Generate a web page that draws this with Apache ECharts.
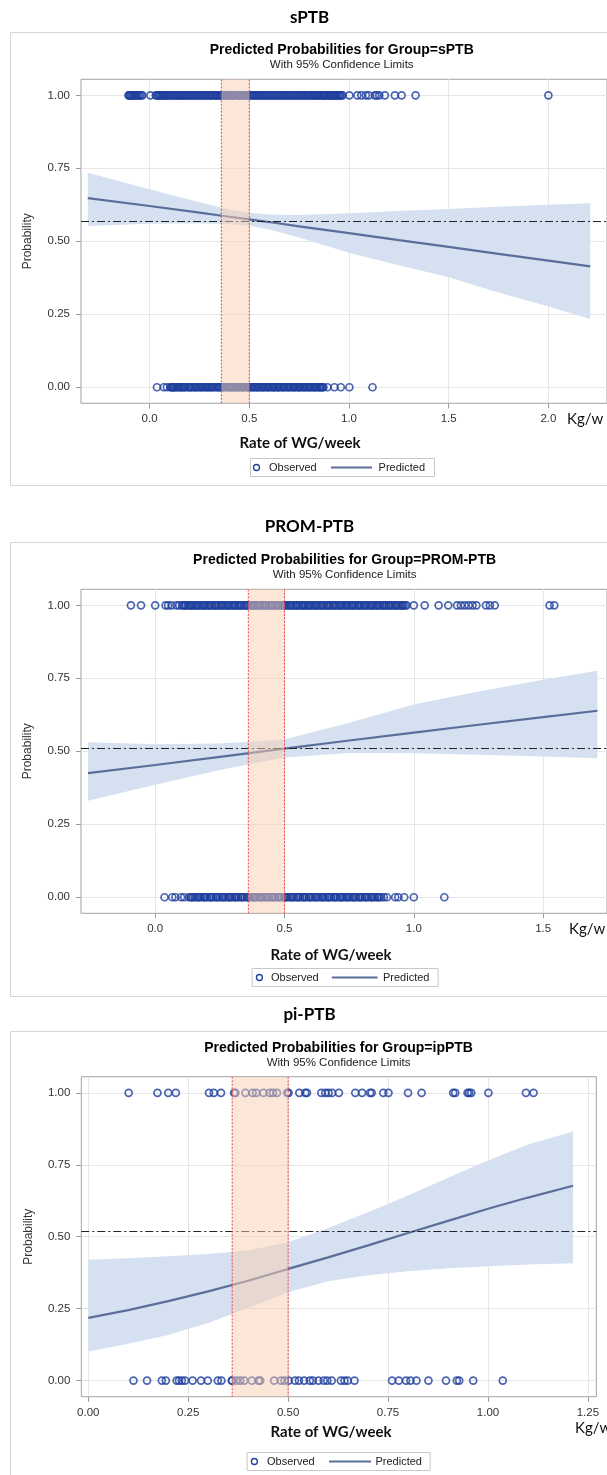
<!DOCTYPE html>
<html><head><meta charset="utf-8">
<script src="https://cdn.jsdelivr.net/npm/echarts@6.0.0/dist/echarts.min.js"></script>
<style>html,body{margin:0;padding:0;background:#fff}#c{width:607px;height:1475px}</style>
</head><body><div id="c"></div>
<script>
// ---------------- DATA ----------------
const yTicks = [0, 0.25, 0.5, 0.75, 1];
const sptbTicks = [0, 0.5, 1, 1.5, 2];
const promTicks = [0, 0.5, 1, 1.5];
const ipTicks = [0, 0.25, 0.5, 0.75, 1, 1.25];
const bandRange = [0.36, 0.5];

// sPTB
const sptbObs1 = [-0.106,-0.102,-0.098,-0.093,-0.088,-0.083,-0.077,-0.071,-0.064,-0.057,-0.05,-0.043,-0.036,0.004,
 0.031,0.036,0.044,0.052,0.057,0.066,0.071,0.083,0.09,0.097,0.104,0.118,0.124,0.131,0.146,0.152,0.163,0.171,0.184,0.19,0.203,0.211,0.226,0.233,0.241,0.255,0.262,0.27,0.284,0.291,0.3,0.31,0.318,0.327,0.336,0.344,0.351,0.362,0.37,0.379,0.386,0.397,0.405,0.414,0.423,0.43,0.441,0.452,0.46,0.467,0.478,0.489,0.497,0.505,0.513,0.525,0.533,0.541,0.556,0.563,0.571,0.586,0.594,0.602,0.617,0.624,0.633,0.648,0.655,0.664,0.679,0.687,0.695,0.71,0.718,0.726,0.741,0.749,0.757,0.772,0.78,0.788,0.803,0.811,0.82,0.829,0.836,0.848,0.856,0.864,0.871,0.879,0.886,0.894,0.9,0.91,0.918,0.925,0.933,0.94,0.948,0.955,0.962,0.968,
 0.048,0.078,0.111,0.138,0.158,0.177,0.197,0.218,0.248,0.277,0.305,0.332,0.357,0.391,0.418,0.447,0.472,0.519,0.548,0.579,0.609,0.641,0.671,0.702,0.734,0.764,0.795,0.825,0.842,0.874,0.905,0.929,0.951,
 1.002,1.042,1.062,1.085,1.1,1.13,1.14,1.152,1.18,1.23,1.264,1.334,2.0];
const sptbObs0 = [0.037,0.071,0.087,0.104,0.109,0.116,0.122,0.133,0.139,0.147,0.158,0.164,0.172,0.181,0.193,0.2,0.209,0.218,0.226,0.237,0.245,0.252,0.263,0.271,0.28,0.292,0.299,0.307,0.316,0.325,0.334,0.342,0.351,0.359,0.367,0.376,0.388,0.396,0.404,0.415,0.423,0.431,0.443,0.451,0.459,0.468,0.476,0.487,0.495,0.503,0.511,0.522,0.53,0.538,0.547,0.556,0.565,0.573,0.582,0.59,0.598,0.607,0.616,0.624,0.633,0.642,0.65,0.659,0.667,0.676,0.685,0.693,0.702,0.711,0.72,0.728,0.737,0.746,0.754,0.763,0.771,0.78,0.789,0.797,0.806,0.815,0.823,0.832,0.841,0.849,0.857,0.865,0.872,
 0.113,0.127,0.152,0.176,0.204,0.231,0.258,0.286,0.312,0.346,0.371,0.41,0.437,0.464,0.491,0.517,0.543,0.569,0.594,0.62,0.646,0.672,0.698,0.724,0.75,0.775,0.801,0.827,0.853,0.868,
 0.892,0.927,0.959,1.002,1.118];
const sptbX     = [-0.31, 0.0, 0.25, 0.4, 0.5, 0.6, 0.75, 1.0, 1.25, 1.5, 1.75, 2.0, 2.21];
const sptbPred  = [0.648, 0.621, 0.598, 0.584, 0.575, 0.566, 0.551, 0.528, 0.504, 0.481, 0.457, 0.434, 0.414];
const sptbUpper = [0.735, 0.678, 0.634, 0.608, 0.598, 0.592, 0.590, 0.596, 0.604, 0.611, 0.618, 0.625, 0.630];
const sptbLower = [0.552, 0.560, 0.561, 0.559, 0.553, 0.540, 0.513, 0.461, 0.418, 0.377, 0.325, 0.277, 0.234];
const sptbRef = 0.575;

// PROM-PTB
const promObs1 = [-0.094,-0.055,0.0,0.04,0.05,0.063,0.082,0.093,
 0.104,0.11,0.118,0.127,0.133,0.142,0.149,0.156,0.166,0.173,0.181,0.19,0.197,0.205,0.214,0.221,0.229,0.238,0.245,0.253,0.262,0.27,0.277,0.286,0.294,0.301,0.31,0.318,0.325,0.334,0.342,0.349,0.358,0.366,0.373,0.382,0.39,0.397,0.406,0.414,0.421,0.43,0.438,0.445,0.454,0.462,0.469,0.478,0.486,0.493,0.503,0.51,0.518,0.527,0.534,0.542,0.551,0.558,0.566,0.575,0.582,0.59,0.599,0.606,0.614,0.623,0.63,0.638,0.647,0.654,0.662,0.671,0.678,0.686,0.695,0.702,0.71,0.719,0.726,0.734,0.743,0.75,0.758,0.767,0.774,0.782,0.791,0.798,0.806,0.815,0.822,0.83,0.839,0.846,0.854,0.863,0.87,0.878,0.887,0.894,0.902,0.911,0.918,0.926,0.935,0.942,0.95,0.959,0.966,0.972,
 0.115,0.138,0.161,0.186,0.209,0.233,0.258,0.281,0.306,0.329,0.353,0.377,0.401,0.426,0.45,0.474,0.498,0.522,0.546,0.571,0.595,0.619,0.643,0.667,0.691,0.715,0.739,0.763,0.787,0.811,0.835,0.859,0.883,0.907,0.931,0.955,
 1.0,1.042,1.096,1.133,1.167,1.182,1.197,1.212,1.227,1.242,1.279,1.294,1.313,1.525,1.543];
const promObs0 = [0.036,0.066,0.078,0.1,0.112,
 0.131,0.137,0.146,0.153,0.161,0.17,0.177,0.186,0.194,0.201,0.21,0.218,0.225,0.234,0.242,0.249,0.258,0.266,0.273,0.282,0.29,0.297,0.306,0.314,0.321,0.33,0.338,0.345,0.354,0.362,0.369,0.378,0.386,0.393,0.402,0.41,0.417,0.426,0.434,0.441,0.45,0.458,0.465,0.474,0.482,0.489,0.498,0.506,0.513,0.522,0.53,0.537,0.546,0.554,0.561,0.57,0.578,0.585,0.594,0.602,0.609,0.618,0.626,0.633,0.642,0.65,0.657,0.666,0.674,0.681,0.69,0.698,0.705,0.714,0.722,0.729,0.738,0.746,0.753,0.762,0.77,0.777,0.786,0.794,0.801,0.81,0.818,0.825,0.834,0.842,0.849,0.858,0.866,
 0.142,0.166,0.19,0.214,0.238,0.262,0.286,0.31,0.334,0.358,0.382,0.406,0.43,0.454,0.478,0.502,0.526,0.55,0.574,0.598,0.622,0.646,0.67,0.694,0.718,0.742,0.766,0.79,0.814,0.838,0.862,0.874,
 0.884,0.896,0.928,0.94,0.963,1.0,1.118];
const promX     = [-0.26, 0.0, 0.25, 0.5, 0.75, 1.0, 1.25, 1.5, 1.71];
const promPred  = [0.425, 0.453, 0.481, 0.509, 0.537, 0.564, 0.591, 0.617, 0.639];
const promUpper = [0.531, 0.524, 0.527, 0.540, 0.598, 0.660, 0.705, 0.745, 0.776];
const promLower = [0.331, 0.385, 0.436, 0.479, 0.494, 0.493, 0.488, 0.482, 0.476];
const promRef = 0.505;

// pi-PTB (ipPTB)
const ipObs1 = [0.101,0.173,0.2,0.219,0.302,0.314,0.332,0.365,0.368,0.393,0.411,0.42,0.438,0.454,0.462,0.472,0.498,0.501,0.528,0.543,0.547,0.583,0.593,0.601,0.61,0.627,0.668,0.685,0.705,0.709,0.738,0.751,0.8,0.834,0.913,0.918,0.949,0.953,0.958,1.001,1.095,1.114];
const ipObs0 = [0.113,0.147,0.184,0.194,0.221,0.227,0.234,0.242,0.261,0.282,0.299,0.324,0.333,0.359,0.36,0.37,0.38,0.39,0.409,0.426,0.43,0.465,0.482,0.491,0.501,0.517,0.527,0.54,0.554,0.562,0.576,0.589,0.598,0.609,0.632,0.641,0.649,0.666,0.76,0.777,0.795,0.806,0.821,0.851,0.895,0.922,0.928,0.963,1.037];
const ipX     = [0.0, 0.1, 0.2, 0.3, 0.4, 0.5, 0.6, 0.7, 0.8, 0.9, 1.0, 1.1, 1.213];
const ipPred  = [0.218, 0.245, 0.276, 0.31, 0.347, 0.388, 0.428, 0.47, 0.513, 0.555, 0.597, 0.636, 0.677];
const ipUpper = [0.42, 0.425, 0.432, 0.44, 0.452, 0.481, 0.53, 0.585, 0.643, 0.705, 0.765, 0.82, 0.866];
const ipLower = [0.101, 0.128, 0.158, 0.2, 0.252, 0.307, 0.345, 0.366, 0.38, 0.39, 0.397, 0.403, 0.408];
const ipRef = 0.52;

// ---------------- LAYOUT ----------------
const panels = [
  {heading:'sPTB', title:'Predicted Probabilities for Group=sPTB',
   obs1:sptbObs1, obs0:sptbObs0, cx:sptbX, pred:sptbPred, up:sptbUpper, lo:sptbLower, ref:sptbRef, xt:sptbTicks, dec:1,
   L:{headY:18, boxY:32, boxH:453, titleX:341.7, titleY:50, subY:65, gl:81, gt:79.3, gw:529, gh:324, xmin:-0.344, xmax:2.294, ymin:-0.055, ymax:1.055,
      kgX:567, kgY:419, rateX:300, rateY:443, lgX:250, lgW:184, lgY:458, lgH:18, lgCirc:256.5, lgObs:269, lgL1:331, lgL2:372, lgPred:378.6}},
  {heading:'PROM-PTB', title:'Predicted Probabilities for Group=PROM-PTB',
   obs1:promObs1, obs0:promObs0, cx:promX, pred:promPred, up:promUpper, lo:promLower, ref:promRef, xt:promTicks, dec:1,
   L:{headY:527, boxY:542, boxH:454, titleX:344.6, titleY:560, subY:575, gl:81, gt:589.3, gw:529, gh:324, xmin:-0.287, xmax:1.747, ymin:-0.055, ymax:1.055,
      kgX:569, kgY:929, rateX:331, rateY:955, lgX:251.6, lgW:186, lgY:968, lgH:18, lgCirc:259.4, lgObs:271, lgL1:331.8, lgL2:377.5, lgPred:383}},
  {heading:'pi-PTB', title:'Predicted Probabilities for Group=ipPTB',
   obs1:ipObs1, obs0:ipObs0, cx:ipX, pred:ipPred, up:ipUpper, lo:ipLower, ref:ipRef, xt:ipTicks, dec:2,
   L:{headY:1015, boxY:1031, boxH:470, titleX:338.6, titleY:1048.3, subY:1063.3, gl:81.3, gt:1076.7, gw:515, gh:320, xmin:-0.0175, xmax:1.271, ymin:-0.056, ymax:1.056,
      kgX:575, kgY:1428, rateX:331, rateY:1432, lgX:246.6, lgW:183, lgY:1452, lgH:18, lgCirc:254.4, lgObs:267, lgL1:329, lgL2:371, lgPred:375.5}}
];

const SAS = '"Liberation Sans", Arial, sans-serif';
const CAL = 'Lato, "Open Sans", sans-serif';
const C_OBS = '#1e3f9e', C_PRED = '#5b6e99', C_CI = '#d5e1f0';

const grids = [], xAxes = [], yAxes = [], series = [], graphics = [];
panels.forEach((p, i) => {
  const L = p.L;
  grids.push({left:L.gl, top:L.gt, width:L.gw, height:L.gh, show:true, borderColor:'#a3a3a3', borderWidth:1, backgroundColor:'transparent'});
  xAxes.push({gridIndex:i, type:'value', min:L.xmin, max:L.xmax,
    axisLine:{show:false, onZero:false},
    axisTick:{show:true, length:5, lineStyle:{color:'#9a9a9a'}, customValues:p.xt},
    axisLabel:{customValues:p.xt, formatter:v=>v.toFixed(p.dec), color:'#333', fontSize:11.5, fontFamily:SAS, margin:10},
    splitLine:{show:true, lineStyle:{color:'#e6e6e6', width:1}}});
  yAxes.push({gridIndex:i, type:'value', min:L.ymin, max:L.ymax,
    name:'Probability', nameLocation:'middle', nameGap:47, nameTextStyle:{color:'#333', fontSize:12, fontFamily:SAS},
    axisLine:{show:false, onZero:false},
    axisTick:{show:true, length:5, lineStyle:{color:'#9a9a9a'}, customValues:yTicks},
    axisLabel:{customValues:yTicks, formatter:v=>v.toFixed(2), color:'#333', fontSize:11.5, fontFamily:SAS, margin:11},
    splitLine:{show:true, lineStyle:{color:'#e6e6e6', width:1}}});

  // confidence band
  series.push({type:'custom', xAxisIndex:i, yAxisIndex:i, z:1, silent:true, clip:true, data:[[p.cx[0], p.pred[0]]],
    renderItem:(params, api) => {
      const pts = [];
      for (let k = 0; k < p.cx.length; k++) pts.push(api.coord([p.cx[k], p.up[k]]));
      for (let k = p.cx.length - 1; k >= 0; k--) pts.push(api.coord([p.cx[k], p.lo[k]]));
      return {type:'polygon', shape:{points:pts}, style:{fill:C_CI}};
    }});
  // predicted line + reference
  series.push({type:'line', name:'Predicted', xAxisIndex:i, yAxisIndex:i, z:3, silent:true, showSymbol:false,
    data:p.cx.map((x,k)=>[x, p.pred[k]]), lineStyle:{color:C_PRED, width:2.2},
    markLine:{silent:true, symbol:['none','none'], label:{show:false}, animation:false,
      lineStyle:{color:'#222', width:1.2, type:[8,3,2,3]}, data:[{yAxis:p.ref}]}});
  // observed
  [p.obs1.map(x=>[x,1]), p.obs0.map(x=>[x,0])].forEach(d => {
    series.push({type:'scatter', name:'Observed', xAxisIndex:i, yAxisIndex:i, z:4, silent:true,
      symbol:'circle', symbolSize:7, data:d,
      itemStyle:{color:'rgba(0,0,0,0)', borderColor:C_OBS, borderWidth:1.7}});
  });
  // highlighted band
  series.push({type:'custom', xAxisIndex:i, yAxisIndex:i, z:6, silent:true, clip:true, data:[bandRange],
    renderItem:(params, api) => {
      const cs = params.coordSys;
      const x1 = api.coord([api.value(0), 0])[0];
      const x2 = api.coord([api.value(1), 0])[0];
      const ln = x => ({type:'line', shape:{x1:x, y1:cs.y, x2:x, y2:cs.y+cs.height}, style:{stroke:'#e8454a', lineWidth:1, lineDash:[2,1.5]}});
      return {type:'group', children:[
        {type:'rect', shape:{x:x1, y:cs.y, width:x2-x1, height:cs.height}, style:{fill:'rgba(249,205,177,0.5)'}},
        ln(x1), ln(x2)]};
    }});

  // texts and frames
  graphics.push({type:'rect', shape:{x:10.5, y:L.boxY+0.5, width:700, height:L.boxH}, style:{fill:'none', stroke:'#d6d6d6', lineWidth:1}, z:-1});
  graphics.push({type:'text', x:309.5, y:L.headY, style:{text:p.heading, font:'bold 17px '+CAL, fill:'#000', align:'center', verticalAlign:'middle'}});
  graphics.push({type:'text', x:L.titleX, y:L.titleY, style:{text:p.title, font:'bold 14px '+SAS, fill:'#000', align:'center', verticalAlign:'middle'}});
  graphics.push({type:'text', x:L.titleX, y:L.subY, style:{text:'With 95% Confidence Limits', font:'11.5px '+SAS, fill:'#222', align:'center', verticalAlign:'middle'}});
  graphics.push({type:'text', x:L.kgX, y:L.kgY, style:{text:'Kg/w', font:'15px '+CAL, fill:'#111', align:'left', verticalAlign:'middle'}});
  graphics.push({type:'text', x:L.rateX, y:L.rateY, style:{text:'Rate of WG/week', font:'bold 15px '+CAL, fill:'#111', align:'center', verticalAlign:'middle'}});
  graphics.push({type:'rect', shape:{x:L.lgX+0.5, y:L.lgY+0.5, width:L.lgW, height:L.lgH}, style:{fill:'#fff', stroke:'#c8c8c8', lineWidth:1}});
  const cy = L.lgY + L.lgH/2 + 0.5;
  graphics.push({type:'circle', shape:{cx:L.lgCirc, cy:cy, r:3}, style:{fill:'none', stroke:C_OBS, lineWidth:1.3}});
  graphics.push({type:'text', x:L.lgObs, y:cy, style:{text:'Observed', font:'11px '+SAS, fill:'#222', align:'left', verticalAlign:'middle'}});
  graphics.push({type:'line', shape:{x1:L.lgL1, y1:cy, x2:L.lgL2, y2:cy}, style:{stroke:C_PRED, lineWidth:2}});
  graphics.push({type:'text', x:L.lgPred, y:cy, style:{text:'Predicted', font:'11px '+SAS, fill:'#222', align:'left', verticalAlign:'middle'}});
});

const chart = echarts.init(document.getElementById('c'), null, {renderer:'canvas', width:607, height:1475});
chart.setOption({
  animation:false,
  backgroundColor:'#fff',
  grid:grids, xAxis:xAxes, yAxis:yAxes, series:series,
  graphic:{elements:graphics}
});
</script></body></html>
